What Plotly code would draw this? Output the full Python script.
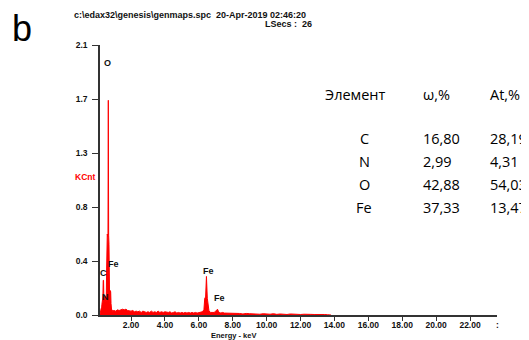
import plotly.graph_objects as go

# ---- spectrum data ----
energy_keV = [0.16, 0.18, 0.20, 0.22, 0.24, 0.26, 0.28, 0.30, 0.32, 0.34, 0.36, 0.38, 0.40,
              0.42, 0.44, 0.46, 0.48, 0.50, 0.52, 0.54, 0.56, 0.58, 0.60, 0.62, 0.64, 0.66,
              0.68, 0.70, 0.72, 0.74, 0.76, 0.78, 0.80, 0.82, 0.84, 0.86, 0.88, 0.90,
              1.0, 1.1, 1.2, 1.3, 1.4, 1.5, 1.6, 1.7, 1.8, 1.9, 2.0, 2.1, 2.2, 2.3, 2.4,
              2.5, 2.6, 2.7, 2.8, 2.9, 3.0, 3.1, 3.2, 3.3, 3.4, 3.5, 3.6, 3.7, 3.8, 3.9,
              4.0, 4.1, 4.2, 4.3, 4.4, 4.5, 4.6, 4.7, 4.8, 4.9, 5.0, 5.1, 5.2, 5.3, 5.4,
              5.5, 5.6, 5.7, 5.8, 5.9, 6.0, 6.1, 6.2, 6.3, 6.35, 6.40, 6.45, 6.50, 6.55,
              6.6, 6.7, 6.8, 6.9, 7.0, 7.05, 7.10, 7.15, 7.2, 7.3, 7.4, 7.5, 7.6, 7.7,
              7.8, 7.9, 8.0, 8.2, 8.4, 8.6, 8.8, 9.0, 9.2, 9.4, 9.6, 9.8, 10.0, 10.2,
              10.4, 10.6, 10.8, 11.0, 11.2, 11.4, 11.6, 11.8, 12.0, 12.2, 12.4, 12.6,
              12.8, 13.0, 13.2, 13.4, 13.6, 13.8, 14.0, 14.2]
counts_kcnt = [0.00, 0.01, 0.02, 0.03, 0.05, 0.04, 0.08, 0.11, 0.09, 0.14, 0.27, 0.27, 0.12,
               0.10, 0.13, 0.15, 0.11, 0.14, 0.10, 0.12, 0.35, 0.60, 0.63, 0.61, 0.62, 1.67,
               0.62, 0.55, 0.12, 0.09, 0.10, 0.19, 0.18, 0.09, 0.05, 0.03, 0.04, 0.03,
               0.035, 0.03, 0.04, 0.035, 0.04, 0.045, 0.04, 0.045, 0.035, 0.03, 0.03, 0.035,
               0.025, 0.03, 0.025, 0.03, 0.02, 0.03, 0.025, 0.02, 0.025, 0.02, 0.03, 0.02,
               0.025, 0.02, 0.03, 0.02, 0.025, 0.02, 0.025, 0.02, 0.02, 0.025, 0.015, 0.02,
               0.025, 0.015, 0.02, 0.015, 0.02, 0.015, 0.02, 0.015, 0.02, 0.015, 0.02, 0.015,
               0.02, 0.015, 0.02, 0.02, 0.025, 0.04, 0.13, 0.14, 0.30, 0.13, 0.06, 0.03,
               0.02, 0.02, 0.02, 0.03, 0.04, 0.045, 0.03, 0.02, 0.015, 0.02, 0.015, 0.015,
               0.01, 0.015, 0.01, 0.015, 0.01, 0.012, 0.008, 0.012, 0.01, 0.008, 0.01,
               0.006, 0.01, 0.008, 0.006, 0.01, 0.005, 0.008, 0.006, 0.004, 0.008, 0.005,
               0.006, 0.004, 0.006, 0.003, 0.005, 0.004, 0.005, 0.003, 0.004, 0.002, 0.0]

# ---- peak labels ----
peak_names = ["O", "Fe", "C", "N", "Fe", "Fe"]
peak_label_E = [0.64, 0.94, 0.35, 0.47, 6.57, 7.21]
peak_label_y = [1.957, 0.40, 0.324, 0.142, 0.345, 0.13]

# ---- axis ticks ----
y_tickvals = [0.0, 0.42, 0.84, 1.26, 1.68, 2.1]
y_ticktext = ["0.0", "0.4", "0.8", "1.3", "1.7", "2.1"]
x_tickvals = [2, 4, 6, 8, 10, 12, 14, 16, 18, 20, 22]
x_ticktext = ["2.00", "4.00", "6.00", "8.00", "10.00", "12.00", "14.00", "16.00",
              "18.00", "20.00", "22.00"]

# ---- composition table ----
elements = ["C", "N", "O", "Fe"]
mass_pct = ["16,80", "2,99", "42,88", "37,33"]
atom_pct = ["28,19", "4,31", "54,03", "13,47"]

OFF = 8  # browser body margin
W, H = 529 - OFF, 340 - OFF
L, R, T, B = 92, 32, 37, 25
pw, ph = W - L - R, H - T - B


def px(x):
    return (x - OFF - L) / pw


def py(y):
    return (H - B - (y - OFF)) / ph


fig = go.Figure()
fig.add_trace(go.Scatter(x=energy_keV, y=counts_kcnt, mode="lines",
                         line=dict(color="#ff0000", width=1), fill="tozeroy",
                         fillcolor="#ff0000", hoverinfo="skip", showlegend=False))

ann = []
lab_font = dict(family="Liberation Sans", size=9, color="#111")
for n, e, v in zip(peak_names, peak_label_E, peak_label_y):
    ann.append(dict(x=e, y=v, xref="x", yref="y", text=f"<b>{n}</b>", showarrow=False,
                    xanchor="center", yanchor="middle", font=lab_font))

hdr_font = dict(family="Liberation Sans", size=9, color="#111")
ann.append(dict(x=px(72), y=py(14.5), xref="paper", yref="paper",
                text="<b>c:\\edax32\\genesis\\genmaps.spc  20-Apr-2019 02:46:20</b>",
                showarrow=False, xanchor="left", yanchor="middle", font=hdr_font))
ann.append(dict(x=px(314), y=py(24.5), xref="paper", yref="paper",
                text="<b>LSecs :  26</b>", showarrow=False, xanchor="right",
                yanchor="middle", font=hdr_font))
ann.append(dict(x=px(10), y=py(29), xref="paper", yref="paper", text="b",
                showarrow=False, xanchor="left", yanchor="middle",
                font=dict(family="Liberation Sans", size=36, color="#000")))
ann.append(dict(x=px(97), y=py(177), xref="paper", yref="paper", text="<b>KCnt</b>",
                showarrow=False, xanchor="right", yanchor="middle",
                font=dict(family="Liberation Sans", size=8.5, color="#ff0000")))
ann.append(dict(x=px(233), y=py(335.5), xref="paper", yref="paper", text="<b>Energy - keV</b>",
                showarrow=False, xanchor="center", yanchor="middle",
                font=dict(family="Liberation Sans", size=7.5, color="#111")))
ann.append(dict(x=px(497), y=py(325), xref="paper", yref="paper", text="<b>:</b>",
                showarrow=False, xanchor="center", yanchor="middle",
                font=dict(family="Liberation Sans", size=8.5, color="#111")))

tab_font = dict(family="Open Sans", size=14.5, color="#000")
ann.append(dict(x=px(323), y=py(94), xref="paper", yref="paper", text="Элемент",
                showarrow=False, xanchor="left", yanchor="middle", font=tab_font))
ann.append(dict(x=px(421), y=py(94), xref="paper", yref="paper", text="ω,%",
                showarrow=False, xanchor="left", yanchor="middle", font=tab_font))
ann.append(dict(x=px(488), y=py(94), xref="paper", yref="paper", text="At,%",
                showarrow=False, xanchor="left", yanchor="middle", font=tab_font))
row_y = [138, 161, 184, 207]
for el, m, a, yy in zip(elements, mass_pct, atom_pct, row_y):
    ann.append(dict(x=px(364), y=py(yy), xref="paper", yref="paper", text=el,
                    showarrow=False, xanchor="center", yanchor="middle", font=tab_font))
    ann.append(dict(x=px(421), y=py(yy), xref="paper", yref="paper", text=m,
                    showarrow=False, xanchor="left", yanchor="middle", font=tab_font))
    ann.append(dict(x=px(488), y=py(yy), xref="paper", yref="paper", text=a,
                    showarrow=False, xanchor="left", yanchor="middle", font=tab_font))

axis_font = dict(family="Liberation Sans", size=8.5, color="#111")
fig.update_layout(
    width=W, height=H, autosize=False,
    margin=dict(l=L, r=R, t=T, b=B, pad=0, autoexpand=False),
    paper_bgcolor="white", plot_bgcolor="white",
    annotations=ann,
    xaxis=dict(range=[0.17, 23.59], tickvals=x_tickvals,
               ticktext=[f"<b>{t}</b>" for t in x_ticktext],
               showline=True, linecolor="#333", linewidth=1.5, ticks="outside",
               ticklen=4, tickwidth=1.2, tickcolor="#333", showgrid=False,
               zeroline=False, tickfont=axis_font, ticklabelstandoff=-3,
               automargin=False, fixedrange=True),
    yaxis=dict(range=[0, 2.1], tickvals=y_tickvals,
               ticktext=[f"<b>{t}</b>" for t in y_ticktext],
               showline=True, linecolor="#333", linewidth=1.5, ticks="outside",
               ticklen=6, tickwidth=1.2, tickcolor="#333", showgrid=False,
               zeroline=False, tickfont=axis_font, ticklabelstandoff=3,
               automargin=False, fixedrange=True),
)

fig.write_html("out.html")
